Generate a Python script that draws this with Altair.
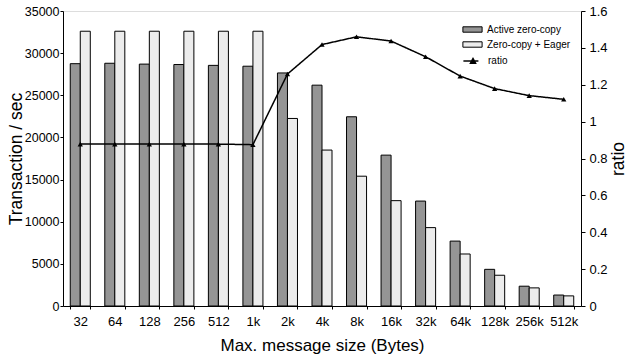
import altair as alt
import pandas as pd

sizes = ["32", "64", "128", "256", "512", "1k", "2k", "4k", "8k", "16k",
         "32k", "64k", "128k", "256k", "512k"]
active = [28750, 28800, 28700, 28650, 28550, 28450, 27650, 26200, 22450,
          17900, 12450, 7700, 4350, 2350, 1300]
eager = [32600, 32600, 32600, 32600, 32600, 32600, 22250, 18500, 15400,
         12500, 9300, 6170, 3650, 2150, 1200]
ratio = [0.878, 0.878, 0.878, 0.878, 0.878, 0.875, 1.258, 1.418, 1.460,
         1.437, 1.352, 1.247, 1.179, 1.141, 1.121]
series = ["Active zero-copy", "Zero-copy + Eager"]

rows = []
for s, a, e in zip(sizes, active, eager):
    rows.append({"size": s, "series": series[0], "value": a})
    rows.append({"size": s, "series": series[1], "value": e})
bars_df = pd.DataFrame(rows)
line_df = pd.DataFrame({"size": sizes, "ratio": ratio, "s": ["ratio"] * len(sizes)})

FONT = "Liberation Sans"

xenc = alt.X(
    "size:N", sort=sizes,
    scale=alt.Scale(paddingInner=0.42, paddingOuter=0.21),
    axis=alt.Axis(title="Max. message size (Bytes)", labelAngle=0, tickBand="extent",
                  tickSize=3, labelPadding=6, titlePadding=9, labelFontSize=13,
                  titleFontSize=17, titleFontWeight="normal", labelFont=FONT, titleFont=FONT,
                  domainColor="black", tickColor="black", labelColor="black",
                  titleColor="black"),
)

bars = alt.Chart(bars_df).mark_bar(stroke="black", strokeWidth=1).encode(
    x=xenc,
    xOffset=alt.XOffset("series:N", sort=series),
    y=alt.Y("value:Q", scale=alt.Scale(domain=[0, 35000], nice=False),
            axis=alt.Axis(title="Transaction / sec", values=list(range(0, 35001, 5000)),
                          format="d", tickSize=3, labelPadding=1,
                          titleAngle=270, titleX=-42, titleY=147.5, titleBaseline="alphabetic",
                          titleAlign="center", labelFontSize=12.5,
                          titleFontSize=17.5, titleFontWeight="normal", labelFont=FONT,
                          titleFont=FONT, grid=False, domainColor="black",
                          tickColor="black", labelColor="black", titleColor="black")),
    color=alt.Color("series:N", sort=series,
                    scale=alt.Scale(domain=series, range=["#959595", "#ececec"]),
                    legend=alt.Legend(title=None, orient="none", legendX=403, legendY=12,
                                      symbolType="M-1.6,-0.45H1.6V0.45H-1.6Z", symbolSize=144,
                                      symbolStrokeColor="black", symbolStrokeWidth=1,
                                      labelFontSize=10, labelFont=FONT, labelColor="black",
                                      rowPadding=3, padding=0, labelOffset=8)),
)

yright = alt.Y("ratio:Q", scale=alt.Scale(domain=[0, 1.6], nice=False),
               axis=alt.Axis(title="ratio", orient="right",
                             values=[0, 0.2, 0.4, 0.6, 0.8, 1, 1.2, 1.4, 1.6],
                             format=".1~f", tickSize=4, labelPadding=4,
                             titleAngle=270, titleX=42, titleY=147.5,
                             titleBaseline="alphabetic", titleAlign="center",
                             labelFontSize=13, titleFontSize=17.5, titleFontWeight="normal",
                             labelFont=FONT, titleFont=FONT, grid=False,
                             domainColor="black", tickColor="black", labelColor="black",
                             titleColor="black"))

line = alt.Chart(line_df).mark_line(color="black", strokeWidth=1.5).encode(
    x=alt.X("size:N", sort=sizes),
    y=yright,
    strokeDash=alt.StrokeDash("s:N", scale=alt.Scale(domain=["ratio"], range=[[1, 0]]),
                              legend=alt.Legend(title=None, orient="none", legendX=403,
                                                legendY=43,
                                                symbolType="M-1.6,0H0.9M-0.45,0.4L0,-0.45L0.45,0.4Z",
                                                symbolSize=144, symbolStrokeColor="black",
                                                symbolFillColor="black", symbolStrokeWidth=1.3,
                                                labelFontSize=10, labelFont=FONT,
                                                labelColor="black", padding=0, labelOffset=8)),
)

points = alt.Chart(line_df).mark_point(shape="triangle-up", filled=True, color="black",
                                       size=28, opacity=1).encode(
    x=alt.X("size:N", sort=sizes),
    y=alt.Y("ratio:Q", scale=alt.Scale(domain=[0, 1.6], nice=False), axis=None),
)

chart = alt.layer(bars, line, points).resolve_scale(
    y="independent"
).properties(
    width=518, height=295,
    autosize=alt.AutoSizeParams(type="none"),
    padding={"left": 63, "top": 11, "right": 47, "bottom": 54},
).configure_view(
    stroke="#777", strokeDash=[1, 2], strokeWidth=1
).configure(background="white")

chart.save("out.html", embed_options={"renderer": "svg", "actions": False})
